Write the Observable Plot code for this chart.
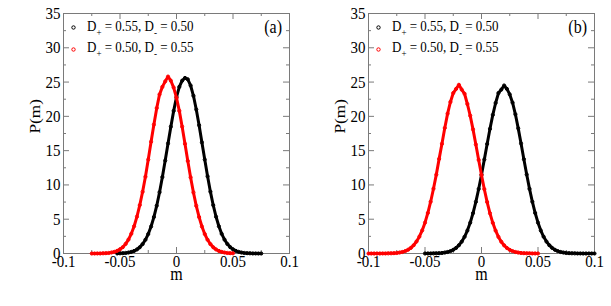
<!DOCTYPE html>
<html><head><meta charset="utf-8">
<script src="https://cdn.jsdelivr.net/npm/d3@7"></script>
<script src="https://cdn.jsdelivr.net/npm/@observablehq/plot@0.6"></script>
<style>
html,body{margin:0;padding:0;background:#fff;}
#fig{position:relative;width:611px;height:306px;overflow:hidden;font-family:"Liberation Serif","Times New Roman",serif;background:#fff;}
.panel{position:absolute;top:0;}
.leg{position:absolute;font-size:13px;line-height:13px;white-space:nowrap;color:#000;transform-origin:0 11px;}
.leg sub{font-size:9px;vertical-align:-4px;line-height:0;}
.tag{position:absolute;font-size:16px;line-height:16px;white-space:nowrap;color:#000;transform-origin:100% 13px;}
</style></head><body><div id="fig"></div>
<script>
// m grid for panel (a)
const mA = [-0.075,-0.0725,-0.07,-0.0675,-0.065,-0.0625,-0.06,-0.0575,-0.055,-0.0525,-0.05,-0.0475,-0.045,-0.0425,-0.04,-0.0375,-0.035,-0.0325,-0.03,-0.0275,-0.025,-0.0225,-0.02,-0.0175,-0.015,-0.0125,-0.01,-0.0075,-0.005,-0.0025,0,0.0025,0.005,0.0075,0.01,0.0125,0.015,0.0175,0.02,0.0225,0.025,0.0275,0.03,0.0325,0.035,0.0375,0.04,0.0425,0.045,0.0475,0.05,0.0525,0.055,0.0575,0.06,0.0625,0.065,0.0675,0.07,0.0725,0.075];
// panel (a), D+ = 0.55, D- = 0.50 (black)
const blackA = [null,null,null,null,null,null,null,null,null,
0.01,0.03,0.05,0.08,0.14,0.23,0.37,0.59,0.91,1.37,2.0,2.84,3.93,5.31,6.97,8.93,11.15,13.55,16.05,18.5,20.8,22.8,24.3,25.2,25.6,25.4,24.5,23.0,21.0,18.7,16.2,13.7,11.25,9.02,7.04,5.36,3.97,2.86,2.02,1.39,0.93,0.6,0.38,0.24,0.14,0.08,0.05,0.03,0.01,0.01,0,0];
// panel (a), D+ = 0.50, D- = 0.55 (red)
const redA = [0,0,0.01,0.01,0.03,0.05,0.08,0.15,0.24,0.39,0.61,0.93,1.40,2.03,2.88,3.98,5.37,7.05,9.0,11.2,13.7,16.3,18.8,21.2,23.2,24.3,25.1,25.8,25.2,24.2,22.7,20.8,18.5,16.0,13.5,11.1,8.9,6.95,5.3,3.93,2.84,2.0,1.37,0.91,0.59,0.37,0.23,0.14,0.08,0.05,0.03,
null,null,null,null,null,null,null,null,null,null];
// m grid for panel (b)
const mB = [-0.1,-0.0975,-0.095,-0.0925,-0.09,-0.0875,-0.085,-0.0825,-0.08,-0.0775,-0.075,-0.0725,-0.07,-0.0675,-0.065,-0.0625,-0.06,-0.0575,-0.055,-0.0525,-0.05,-0.0475,-0.045,-0.0425,-0.04,-0.0375,-0.035,-0.0325,-0.03,-0.0275,-0.025,-0.0225,-0.02,-0.0175,-0.015,-0.0125,-0.01,-0.0075,-0.005,-0.0025,0,0.0025,0.005,0.0075,0.01,0.0125,0.015,0.0175,0.02,0.0225,0.025,0.0275,0.03,0.0325,0.035,0.0375,0.04,0.0425,0.045,0.0475,0.05,0.0525,0.055,0.0575,0.06,0.0625,0.065,0.0675,0.07,0.0725,0.075,0.0775,0.08,0.0825,0.085,0.0875,0.09,0.0925,0.095,0.0975,0.1];
// panel (b), red
const redB = [0,0,0,0,0,0.01,0.01,0.02,0.03,0.05,0.08,0.14,0.22,0.35,0.55,0.82,1.21,1.75,2.45,3.36,4.5,5.9,7.55,9.45,11.5,13.8,16.0,18.3,20.4,22.1,23.4,24.0,24.6,23.9,23.3,21.8,20.1,18.1,15.9,13.65,11.45,9.38,7.5,5.86,4.47,3.33,2.42,1.72,1.19,0.8,0.53,0.35,0.22,0.14,0.08,0.05,0.03,0.02,0.01,0.01,0,
null,null,null,null,null,null,null,null,null,null,null,null,null,null,null,null,null,null,null,null];
// panel (b), black
const blackB = [null,null,null,null,null,null,null,null,null,null,null,null,null,null,null,null,null,null,null,null,
0,0.01,0.01,0.02,0.03,0.05,0.08,0.14,0.22,0.35,0.54,0.81,1.2,1.73,2.43,3.34,4.49,5.88,7.53,9.41,11.49,13.71,15.98,18.18,20.21,21.95,23.4,23.9,24.5,24.0,23.2,22.0,20.3,18.25,16.05,13.75,11.52,9.43,7.55,5.9,4.5,3.35,2.44,1.74,1.21,0.82,0.54,0.35,0.22,0.14,0.08,0.05,0.03,0.02,0.01,0.01,0,0,0,0,0];

const xMajor = [-0.1,-0.05,0,0.05,0.1];
const xMinor = [-0.075,-0.025,0.025,0.075];
const yMajor = [0,5,10,15,20,25,30,35];
const yMinor = [2.5,7.5,12.5,17.5,22.5,27.5,32.5];
const legendLines = ["D<sub>+</sub> = 0.55, D<sub>-</sub> = 0.50", "D<sub>+</sub> = 0.50, D<sub>-</sub> = 0.55"];
const seriesColors = ["#000000", "#ff0000"];
const panelTags = ["(a)", "(b)"];
const frameColor = "#7a7a7a";
const S = 1.15; // vertical text stretch of the original figure

function rows(m, vals) {
  return m.map((x, i) => ({m: x, P: vals[i]})).filter(d => d.P != null);
}

function stretch(svg, s) {
  svg.querySelectorAll("text").forEach(t => {
    let tr = t.getAttribute("transform") || "";
    const x = +t.getAttribute("x") || 0, y = +t.getAttribute("y") || 0;
    if (x || y) { t.removeAttribute("x"); t.removeAttribute("y"); tr += ` translate(${x},${y})`; }
    tr += /rotate/.test(tr) ? ` scale(${s},1)` : ` scale(1,${s})`;
    t.setAttribute("transform", tr);
  });
}

function makePanel(m, black, red, tag, left, width, marginRight) {
  const W = width, H = 306, mt = 13, mb = 53, ml = 63;
  const fw = W - ml - marginRight, fh = H - mt - mb;
  const series = [rows(m, black), rows(m, red)];
  const marks = [];
  // ticks inside the frame on all four sides
  marks.push(Plot.tickX(xMajor, {x: d => d, insetTop: fh - 6, stroke: frameColor}));
  marks.push(Plot.tickX(xMajor, {x: d => d, insetBottom: fh - 6, stroke: frameColor}));
  marks.push(Plot.tickX(xMinor, {x: d => d, insetTop: fh - 3, stroke: frameColor}));
  marks.push(Plot.tickX(xMinor, {x: d => d, insetBottom: fh - 3, stroke: frameColor}));
  marks.push(Plot.tickY(yMajor, {y: d => d, insetRight: fw - 6, stroke: frameColor}));
  marks.push(Plot.tickY(yMajor, {y: d => d, insetLeft: fw - 6, stroke: frameColor}));
  marks.push(Plot.tickY(yMinor, {y: d => d, insetRight: fw - 3, stroke: frameColor}));
  marks.push(Plot.tickY(yMinor, {y: d => d, insetLeft: fw - 3, stroke: frameColor}));
  marks.push(Plot.frame({stroke: frameColor}));
  // tick labels
  marks.push(Plot.axisX({ticks: xMajor, tickSize: 0, tickPadding: 1, tickFormat: d => String(d), label: null, fontSize: 15}));
  marks.push(Plot.axisY({ticks: yMajor, tickSize: 0, tickPadding: 3, tickFormat: d => String(d), label: null, fontSize: 15}));
  // axis titles
  marks.push(Plot.text(["m"], {text: d => d, frameAnchor: "bottom", dy: 26.5, lineAnchor: "bottom", fontSize: 16}));
  marks.push(Plot.text(["P(m)"], {text: d => d, frameAnchor: "left", dx: -28, rotate: -90, fontSize: 15}));
  // data
  [0, 1].forEach(k => {
    marks.push(Plot.line(series[k], {x: "m", y: "P", stroke: seriesColors[k], strokeWidth: 3}));
    marks.push(Plot.dot(series[k], {x: "m", y: "P", r: 1.6, stroke: seriesColors[k], strokeWidth: 1, fill: "none"}));
  });
  // legend markers
  marks.push(Plot.dot([0], {frameAnchor: "top-left", dx: 10, dy: 14, r: 1.7, stroke: seriesColors[0], strokeWidth: 1, fill: "white"}));
  marks.push(Plot.dot([0], {frameAnchor: "top-left", dx: 10, dy: 36, r: 1.7, stroke: seriesColors[1], strokeWidth: 1, fill: "white"}));

  const svg = Plot.plot({
    width: W, height: H,
    marginLeft: ml, marginRight: marginRight, marginTop: mt, marginBottom: mb,
    x: {domain: [-0.1, 0.1]},
    y: {domain: [0, 35]},
    style: {fontFamily: "'Liberation Serif', 'Times New Roman', serif", fontSize: "15px", color: "#000", background: "#fff", overflow: "visible"},
    marks
  });
  stretch(svg, S);
  const div = document.createElement("div");
  div.className = "panel";
  div.style.left = left + "px";
  div.style.width = W + "px";
  div.appendChild(svg);
  legendLines.forEach((txt, i) => {
    const l = document.createElement("div");
    l.className = "leg";
    l.innerHTML = txt;
    l.style.left = "87px";
    l.style.top = (i === 0 ? 20 : 41) + "px";
    l.style.transform = `scaleY(${S})`;
    div.appendChild(l);
  });
  const t = document.createElement("div");
  t.className = "tag";
  t.textContent = tag;
  t.style.right = (W - 282) + "px";
  t.style.top = "20px";
  t.style.transform = `scaleY(${S})`;
  div.appendChild(t);
  return div;
}

const fig = document.getElementById("fig");
fig.appendChild(makePanel(mA, blackA, redA, panelTags[0], 0, 305, 16));
fig.appendChild(makePanel(mB, blackB, redB, panelTags[1], 305, 306, 17));
</script></body></html>
